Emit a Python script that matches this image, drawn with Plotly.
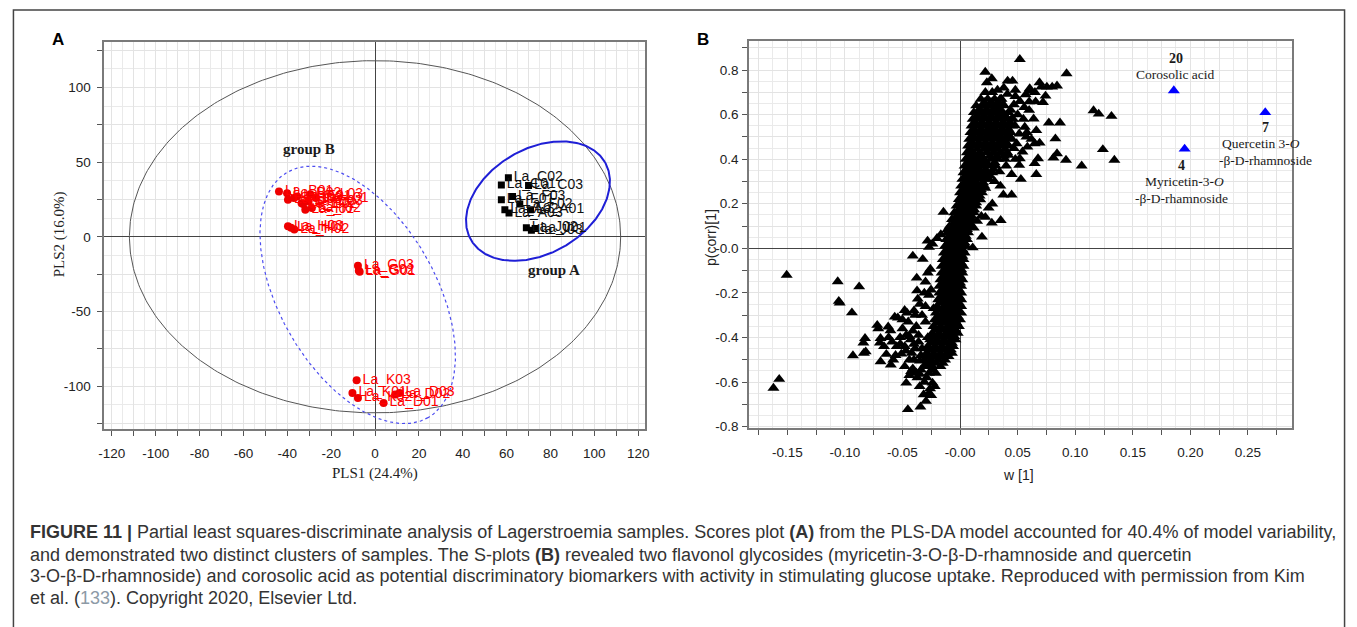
import numpy as np
import plotly.graph_objects as go

W, H = 1357, 627

# ---------------- Panel A : PLS-DA scores ----------------
grpA_names = ["La_C02", "La_C01", "La_C03", "La_F03", "La_F01", "La_F02",
              "La_A02", "La_A03", "La_A01", "La_J02", "La_J03", "La_J01"]
grpA_x = [60.8, 57.6, 70.0, 62.7, 57.6, 66.0, 59.2, 61.1, 70.9, 69.0, 71.3, 73.0]
grpA_y = [39.6, 34.7, 34.3, 27.0, 24.8, 21.9, 18.1, 15.9, 18.1, 6.0, 4.4, 5.5]

grpB_names = ["La_B01", "La_B02", "La_B03", "La_E01", "La_E02", "La_E03",
              "La_I01", "La_I02", "La_I03", "La_L01", "La_L02", "La_L03",
              "La_H03", "La_H01", "La_H02",
              "La_G03", "La_G01", "La_G02",
              "La_K03", "La_K01", "La_K02", "La_D01", "La_D02", "La_D03"]
grpB_x = [-43.8, -40.1, -39.7, -35.5, -32.8, -30.3, -31.8, -28.8, -37.0, -27.0, -33.5, -29.5,
          -39.7, -38.3, -36.8,
          -7.8, -7.0, -7.4,
          -8.4, -10.3, -7.8, 3.9, 9.2, 11.2]
grpB_y = [30.3, 29.2, 24.8, 27.0, 21.9, 23.7, 18.1, 19.2, 26.0, 25.9, 22.5, 28.5,
          7.1, 6.0, 4.9,
          -19.5, -23.5, -22.8,
          -96.2, -104.6, -108.0, -111.3, -105.7, -104.6]

# ellipses: center + coefficient form  x = cx + A cos t + B sin t ; y = cy + C cos t + D sin t
hotelling = [0.0, 0.0, 112.0, 0.0, 0.0, 118.0]
ellipse_A = [74.3, 23.9, 30.53, -12.02, 26.10, 30.34]
ellipse_B = [-7.9, -38.95, 32.06, -30.96, -82.23, -26.05]

A_xticks = list(range(-120, 121, 10))
A_yticks = list(range(-125, 126, 25))

# ---------------- Panel B : S-plot ----------------
core_y = [-0.56, -0.53, -0.50, -0.47, -0.44, -0.41, -0.38, -0.35, -0.32, -0.29, -0.26,
          -0.23, -0.20, -0.17, -0.14, -0.11, -0.08, -0.05, -0.02, 0.01, 0.04, 0.07, 0.10,
          0.13, 0.16, 0.19, 0.22, 0.25, 0.28, 0.31, 0.34, 0.37, 0.40, 0.43, 0.46, 0.49,
          0.52, 0.55, 0.58, 0.61, 0.64, 0.67, 0.70]
core_x = [
    [-0.027, -0.021],
    [-0.030, -0.024, -0.017],
    [-0.031, -0.025, -0.019, -0.013],
    [-0.029, -0.023, -0.017, -0.011, -0.007],
    [-0.028, -0.022, -0.016, -0.010, -0.006],
    [-0.026, -0.020, -0.014, -0.008, -0.004],
    [-0.024, -0.018, -0.012, -0.007, -0.002],
    [-0.023, -0.017, -0.011, -0.006, -0.001],
    [-0.022, -0.016, -0.011, -0.005, 0.000],
    [-0.021, -0.015, -0.010, -0.005, 0.001],
    [-0.020, -0.014, -0.009, -0.004, 0.001],
    [-0.019, -0.014, -0.009, -0.004, 0.001],
    [-0.018, -0.013, -0.008, -0.003, 0.001],
    [-0.018, -0.013, -0.008, -0.003, 0.001],
    [-0.017, -0.012, -0.007, -0.002, 0.002],
    [-0.016, -0.011, -0.006, -0.002, 0.002],
    [-0.016, -0.011, -0.006, -0.001, 0.003],
    [-0.015, -0.010, -0.005, -0.001, 0.003],
    [-0.014, -0.009, -0.005, 0.000, 0.004],
    [-0.013, -0.008, -0.004, 0.001, 0.005],
    [-0.012, -0.007, -0.003, 0.002, 0.006],
    [-0.011, -0.006, -0.002, 0.003, 0.007],
    [-0.009, -0.005, 0.000, 0.004, 0.008],
    [-0.007, -0.003, 0.002, 0.006, 0.010],
    [-0.005, -0.001, 0.004, 0.008, 0.012],
    [-0.003, 0.001, 0.006, 0.010, 0.014],
    [-0.001, 0.003, 0.008, 0.012, 0.016],
    [0.000, 0.005, 0.010, 0.014, 0.019],
    [0.001, 0.006, 0.011, 0.016, 0.021],
    [0.002, 0.007, 0.012, 0.017, 0.022, 0.025],
    [0.003, 0.008, 0.013, 0.018, 0.023, 0.028],
    [0.004, 0.009, 0.014, 0.019, 0.025, 0.031],
    [0.005, 0.010, 0.015, 0.021, 0.027, 0.033, 0.039],
    [0.006, 0.011, 0.017, 0.023, 0.029, 0.035, 0.041],
    [0.007, 0.012, 0.018, 0.024, 0.030, 0.036, 0.042],
    [0.008, 0.013, 0.019, 0.025, 0.031, 0.037, 0.043],
    [0.009, 0.014, 0.020, 0.026, 0.032, 0.038, 0.044],
    [0.010, 0.015, 0.021, 0.027, 0.033, 0.039, 0.045],
    [0.011, 0.016, 0.022, 0.028, 0.034, 0.040, 0.046],
    [0.012, 0.018, 0.024, 0.030, 0.036, 0.042],
    [0.014, 0.020, 0.026, 0.032, 0.038],
    [0.018, 0.024, 0.030, 0.036],
    [0.022, 0.028],
]
mid_y = [-0.545, -0.515, -0.485, -0.455, -0.425, -0.395, -0.365, -0.335, -0.305, -0.275,
         -0.245, -0.215, -0.185, -0.155, -0.125, -0.095, -0.065, -0.035, -0.005, 0.025,
         0.055, 0.085, 0.115, 0.145, 0.175, 0.205, 0.235, 0.265, 0.295, 0.325, 0.355,
         0.385, 0.415, 0.445, 0.475, 0.505, 0.535, 0.565, 0.595, 0.625, 0.655]
mid_x = [
    [-0.024],
    [-0.027, -0.021, -0.015],
    [-0.028, -0.022, -0.016, -0.010],
    [-0.026, -0.020, -0.014, -0.008],
    [-0.025, -0.019, -0.013, -0.007],
    [-0.023, -0.017, -0.011, -0.005],
    [-0.021, -0.015, -0.009, -0.004],
    [-0.020, -0.014, -0.008, -0.003],
    [-0.019, -0.013, -0.008, -0.002],
    [-0.018, -0.012, -0.007, -0.002],
    [-0.017, -0.011, -0.006, -0.001],
    [-0.016, -0.011, -0.006, -0.001],
    [-0.015, -0.010, -0.005, -0.001],
    [-0.015, -0.010, -0.005, 0.000],
    [-0.014, -0.009, -0.004, 0.000],
    [-0.013, -0.008, -0.004, 0.001],
    [-0.013, -0.008, -0.003, 0.001],
    [-0.012, -0.007, -0.003, 0.002],
    [-0.011, -0.007, -0.002, 0.002],
    [-0.010, -0.006, -0.001, 0.004],
    [-0.009, -0.005, 0.000, 0.005],
    [-0.007, -0.003, 0.002, 0.006],
    [-0.005, -0.001, 0.004, 0.008],
    [-0.003, 0.001, 0.006, 0.010],
    [-0.001, 0.003, 0.008, 0.012],
    [0.001, 0.005, 0.010, 0.014],
    [0.002, 0.007, 0.012, 0.017],
    [0.003, 0.008, 0.013, 0.018],
    [0.004, 0.009, 0.014, 0.020],
    [0.005, 0.010, 0.015, 0.020, 0.026],
    [0.006, 0.011, 0.016, 0.022, 0.029],
    [0.007, 0.012, 0.017, 0.023, 0.030],
    [0.008, 0.013, 0.018, 0.026, 0.032, 0.038],
    [0.009, 0.015, 0.021, 0.027, 0.033, 0.039],
    [0.010, 0.016, 0.022, 0.028, 0.034, 0.040],
    [0.011, 0.017, 0.023, 0.029, 0.035, 0.041],
    [0.012, 0.018, 0.024, 0.030, 0.036, 0.042],
    [0.013, 0.019, 0.025, 0.031, 0.037, 0.043],
    [0.015, 0.021, 0.027, 0.033, 0.039],
    [0.017, 0.023, 0.029, 0.035],
    [0.021, 0.027, 0.033],
]

scatter_w = [0.0519, 0.0925, 0.0219, 0.0233, 0.0276, 0.0413, 0.0456, 0.0325, 0.0411, 0.0480,
             0.0605, 0.0610, 0.0690, 0.0705, 0.0754, 0.0800, 0.0842, 0.0742, 0.0720, 0.0656,
             0.0600, 0.0557, 0.0468, 0.0376, 0.0771, 0.0868, 0.0639, 0.0562, 0.0662, 0.0576,
             0.0828, 0.0648, 0.0691, 0.0519, 0.0677, 0.0648, 0.0811, 0.0842, 0.0920, 0.0514,
             0.0448, 0.0528, 0.0662, 0.0342, 0.0233, 0.0376, 0.0448, 0.0353, 0.0276, 0.0190,
             0.0110, 0.0248, 0.0185, -0.0144,
             0.1159, 0.1204, 0.1315, 0.1240, 0.1340, 0.1056,
             0.0348, 0.0319, 0.0390, 0.0448, 0.0476, 0.0419, 0.0448, 0.0362, 0.0468, 0.0419,
             0.0291, 0.0514, 0.0491, 0.0542, 0.0585, 0.0270, 0.0190, 0.0219, 0.0176, 0.0119,
             0.0019, -0.0024, -0.0110, -0.0167, 0.0119, 0.0148,
             -0.0410, -0.0324, -0.0282, -0.0240, -0.0200, -0.0270,
             -0.1505, -0.1062, -0.0876, -0.1053, -0.1045, -0.0939, -0.0930, -0.0825, -0.0839,
             -0.0819, -0.0835, -0.0690, -0.0696, -0.0690, -0.0719, -0.0710, -0.0601, -0.0624,
             -0.0604, -0.0567, -0.0540, -0.0519, -0.0510, -0.0481, -0.0460, -0.0467, -0.0440,
             -0.0467, -0.0453, -0.0376, -0.0373, -0.0367, -0.0400, -0.0390, -0.0420, -0.0425,
             -0.0410, -0.0380, -0.0350, -0.0344, -0.0296, -0.0316, -0.0270, -0.0260, -0.0239,
             -0.0339, -0.0350, -0.0280, -0.0300, -0.0258, -0.0280, -0.0252, -0.0270, -0.0300,
             -0.0230, -0.1620, -0.1570, -0.0640, -0.0560, -0.0520, -0.0590, -0.0480, -0.0440,
             -0.0400, -0.0380, -0.0360, -0.0330, -0.0310,
             -0.045, -0.050, -0.043, -0.036, -0.047, -0.055, -0.058, -0.048, -0.040, -0.037,
             -0.044, -0.029, -0.030, -0.034, -0.039, -0.041, -0.033, -0.035, -0.031, -0.030,
             -0.022, -0.025, -0.035, -0.066, -0.062, -0.050,
             0.050, 0.055, 0.060, 0.052, 0.057, 0.065, 0.048, 0.038, 0.044, 0.058, 0.062,
             0.048, 0.040, 0.030, 0.035, 0.028, 0.022]
scatter_p = [0.848, 0.784, 0.791, 0.744, 0.762, 0.751, 0.751, 0.710, 0.692, 0.682,
             0.717, 0.705, 0.744, 0.724, 0.724, 0.724, 0.729, 0.684, 0.655, 0.658,
             0.658, 0.633, 0.645, 0.645, 0.563, 0.563, 0.581, 0.544, 0.529, 0.500,
             0.492, 0.470, 0.473, 0.403, 0.403, 0.381, 0.406, 0.425, 0.396, 0.373,
             0.332, 0.310, 0.332, 0.344, 0.329, 0.240, 0.240, 0.126, 0.114, 0.051,
             0.003, 0.181, 0.144, 0.163,
             0.618, 0.603, 0.593, 0.444, 0.396, 0.370,
             0.670, 0.611, 0.596, 0.581, 0.551, 0.522, 0.492, 0.477, 0.448, 0.418,
             0.536, 0.514, 0.470, 0.433, 0.455, 0.448, 0.396, 0.270, 0.218, 0.173,
             0.144, 0.092, 0.084, 0.062, 0.092, 0.122,
             -0.034, -0.049, 0.033, 0.020, 0.045, 0.005,
             -0.120, -0.149, -0.172, -0.237, -0.245, -0.289, -0.481, -0.404, -0.424,
             -0.464, -0.470, -0.404, -0.424, -0.508, -0.345, -0.360, -0.523, -0.352,
             -0.369, -0.308, -0.312, -0.429, -0.474, -0.278, -0.290, -0.389, -0.395,
             -0.604, -0.723, -0.133, -0.190, -0.227, -0.280, -0.300, -0.470, -0.552,
             -0.540, -0.560, -0.565, -0.711, -0.686, -0.656, -0.650, -0.630, -0.604,
             -0.545, -0.505, -0.400, -0.330, -0.093, -0.110, -0.186, -0.210, -0.260,
             -0.270, -0.627, -0.587, -0.475, -0.480, -0.400, -0.420, -0.440, -0.500,
             -0.430, -0.350, -0.390, -0.450, -0.600,
             -0.33, -0.36, -0.41, -0.42, -0.46, -0.44, -0.50, -0.53, -0.50, -0.58,
             -0.57, -0.58, -0.52, -0.48, -0.45, -0.37, -0.30, -0.25, -0.20, -0.15,
             -0.62, -0.66, -0.62, -0.44, -0.40, -0.32,
             0.60, 0.58, 0.62, 0.66, 0.69, 0.70, 0.71, 0.72, 0.62, 0.52, 0.49,
             0.40, 0.37, 0.30, 0.28, 0.20, 0.14]

marker_w = [0.1856, 0.1950, 0.2650]
marker_p = [0.708, 0.446, 0.610]

B_xticks = [-0.175, -0.15, -0.125, -0.10, -0.075, -0.05, -0.025, 0.0, 0.025, 0.05, 0.075,
            0.10, 0.125, 0.15, 0.175, 0.20, 0.225, 0.25, 0.275]
B_xlabels = ["", "-0.15", "", "-0.10", "", "-0.05", "", "-0.00", "", "0.05", "",
             "0.10", "", "0.15", "", "0.20", "", "0.25", ""]
B_yticks = [-0.8, -0.7, -0.6, -0.5, -0.4, -0.3, -0.2, -0.1, 0.0, 0.1, 0.2, 0.3, 0.4,
            0.5, 0.6, 0.7, 0.8, 0.9]
B_ylabels = ["-0.8", "", "-0.6", "", "-0.4", "", "-0.2", "", "-0.0", "", "0.2", "",
             "0.4", "", "0.6", "", "0.8", ""]

# ---------------- build ----------------
SANS = "Liberation Sans, Arial, sans-serif"
SERIF = "Liberation Serif, Times New Roman, serif"

fig = go.Figure()

t = np.linspace(0, 2 * np.pi, 400)


def ellipse(p):
    cx, cy, a, b, c, d = p
    return cx + a * np.cos(t) + b * np.sin(t), cy + c * np.cos(t) + d * np.sin(t)


ex, ey = ellipse(hotelling)
fig.add_trace(go.Scatter(x=ex, y=ey, mode="lines", line=dict(color="#555555", width=1),
                         xaxis="x", yaxis="y", hoverinfo="skip"))
ex, ey = ellipse(ellipse_A)
fig.add_trace(go.Scatter(x=ex, y=ey, mode="lines", line=dict(color="#1f1fd6", width=2),
                         xaxis="x", yaxis="y", hoverinfo="skip"))
ex, ey = ellipse(ellipse_B)
fig.add_trace(go.Scatter(x=ex, y=ey, mode="lines",
                         line=dict(color="#4d4df0", width=1.2, dash="dot"),
                         xaxis="x", yaxis="y", hoverinfo="skip"))

fig.add_trace(go.Scatter(x=grpA_x, y=grpA_y, mode="markers+text", text=grpA_names,
                         textposition="middle right",
                         textfont=dict(family=SANS, size=14, color="#111111"),
                         marker=dict(symbol="square", size=7, color="#000000"),
                         xaxis="x", yaxis="y"))
fig.add_trace(go.Scatter(x=grpB_x, y=grpB_y, mode="markers+text", text=grpB_names,
                         textposition="middle right",
                         textfont=dict(family=SANS, size=14, color="#ff0000"),
                         marker=dict(symbol="circle", size=8, color="#ee0000"),
                         xaxis="x", yaxis="y"))

# panel B scatter
sx, sy = [], []
for yy, row in list(zip(core_y, core_x)) + list(zip(mid_y, mid_x)):
    for xx in row:
        sx.append(xx)
        sy.append(yy)
sx += scatter_w
sy += scatter_p
fig.add_trace(go.Scatter(x=sx, y=sy, mode="markers",
                         marker=dict(symbol="triangle-up", size=10.5, color="#000000"),
                         xaxis="x2", yaxis="y2"))
fig.add_trace(go.Scatter(x=marker_w, y=marker_p, mode="markers",
                         marker=dict(symbol="triangle-up", size=10.5, color="#0000ff"),
                         xaxis="x2", yaxis="y2"))

tickfont = dict(family=SANS, size=13.5, color="#222222")
axis_common = dict(showline=True, mirror=True, linecolor="#7a7a7a", linewidth=1.5,
                   ticks="outside", ticklen=5, tickcolor="#555555", tickwidth=1,
                   showgrid=True, gridcolor="#e3e3e3", gridwidth=1,
                   zeroline=True, zerolinecolor="#444444", zerolinewidth=1.2,
                   tickfont=tickfont, tickmode="array")

fig.update_layout(
    width=W, height=H, margin=dict(l=0, r=0, t=0, b=0),
    paper_bgcolor="white", plot_bgcolor="white", showlegend=False,
    xaxis=dict(domain=[99 / W, 644 / W], range=[-123.5, 123], anchor="y",
               tickvals=A_xticks,
               ticktext=[str(v) if v % 20 == 0 else "" for v in A_xticks],
               minor=dict(tickmode="linear", tick0=0, dtick=5, showgrid=True,
                          gridcolor="#eaeaea", ticks=""),
               ticklabelstandoff=6, **axis_common),
    yaxis=dict(domain=[1 - 433 / H, 1 - 42.7 / H], range=[-128.7, 130.3], anchor="x",
               tickvals=A_yticks,
               ticktext=[str(v) if v % 50 == 0 else "" for v in A_yticks],
               minor=dict(tickmode="linear", tick0=0, dtick=12.5, showgrid=True,
                          gridcolor="#eaeaea", ticks=""),
               ticklabelstandoff=4, **axis_common),
    xaxis2=dict(domain=[749 / W, 1296.6 / W], range=[-0.1833, 0.2883], anchor="y2",
                tickvals=B_xticks, ticktext=B_xlabels,
                minor=dict(tickmode="linear", tick0=0, dtick=0.0125, showgrid=True,
                           gridcolor="#eaeaea", ticks=""),
                ticklabelstandoff=6, **axis_common),
    yaxis2=dict(domain=[1 - 432.3 / H, 1 - 41.7 / H], range=[-0.807, 0.929], anchor="x2",
                tickvals=B_yticks, ticktext=B_ylabels,
                minor=dict(tickmode="linear", tick0=0, dtick=0.05, showgrid=True,
                           gridcolor="#eaeaea", ticks=""),
                ticklabelstandoff=1, **axis_common),
)

ann = []


def pa(x, y, text, size, family, bold=False, angle=0, color="#111111", xanchor="center"):
    ann.append(dict(x=x / W, y=1 - y / H, xref="paper", yref="paper", text=text,
                    showarrow=False, textangle=angle, xanchor=xanchor, yanchor="middle",
                    font=dict(family=family, size=size, color=color)))


pa(52, 40, "<b>A</b>", 17, SANS, color="#000000")
pa(703, 40, "<b>B</b>", 17, SANS, color="#000000")
pa(372, 478, "PLS1 (24.4%)", 15, SERIF, color="#222222")
pa(54, 237, "PLS2 (16.0%)", 15, SERIF, angle=-90, color="#222222")
pa(1021, 480, "w [1]", 14, SANS, color="#222222")
pa(710, 240, "p(corr)[1]", 14, SANS, angle=-90, color="#222222")


def da(x, y, text, size, xr="x2", yr="y2"):
    ann.append(dict(x=x, y=y, xref=xr, yref=yr, text=text, showarrow=False,
                    xanchor="center", yanchor="middle",
                    font=dict(family=SERIF, size=size, color="#1a1a1a")))


da(-30, 59, "<b>group B</b>", 15, "x", "y")
da(81.7, -22.4, "<b>group A</b>", 15, "x", "y")
da(0.1871, 0.851, "<b>20</b>", 14)
da(0.1871, 0.778, "Corosolic acid", 13.5)
da(0.2648, 0.544, "<b>7</b>", 14)
da(0.2611, 0.470, "Quercetin 3-<i>O</i>", 13.5)
da(0.2648, 0.396, "-β-D-rhamnoside", 13.5)
da(0.1926, 0.373, "<b>4</b>", 14)
da(0.1945, 0.300, "Myricetin-3-<i>O</i>", 13.5)
da(0.1926, 0.225, "-β-D-rhamnoside", 13.5)

caption_lines = [
    "<b>FIGURE 11 |</b> Partial least squares-discriminate analysis of Lagerstroemia samples. "
    "Scores plot <b>(A)</b> from the PLS-DA model accounted for 40.4% of model variability,",
    "and demonstrated two distinct clusters of samples. The S-plots <b>(B)</b> revealed two "
    "flavonol glycosides (myricetin-3-O-β-D-rhamnoside and quercetin",
    "3-O-β-D-rhamnoside) and corosolic acid as potential discriminatory biomarkers with "
    "activity in stimulating glucose uptake. Reproduced with permission from Kim",
    "et al. (<span style='color:#8d9aa6'>133</span>). Copyright 2020, Elsevier Ltd.",
]
caption_y = [537, 560, 582, 604]
for txt, yy in zip(caption_lines, caption_y):
    pa(22, yy, txt, 18, SANS, color="#333333", xanchor="left")

fig.update_layout(annotations=ann)

fig.add_shape(type="rect", xref="paper", yref="paper", x0=7.5 / W, x1=1349.5 / W,
              y0=-0.2, y1=1 - 10 / H, line=dict(color="#444444", width=1.5),
              fillcolor="rgba(0,0,0,0)", layer="above")

fig.write_html("out.html")
